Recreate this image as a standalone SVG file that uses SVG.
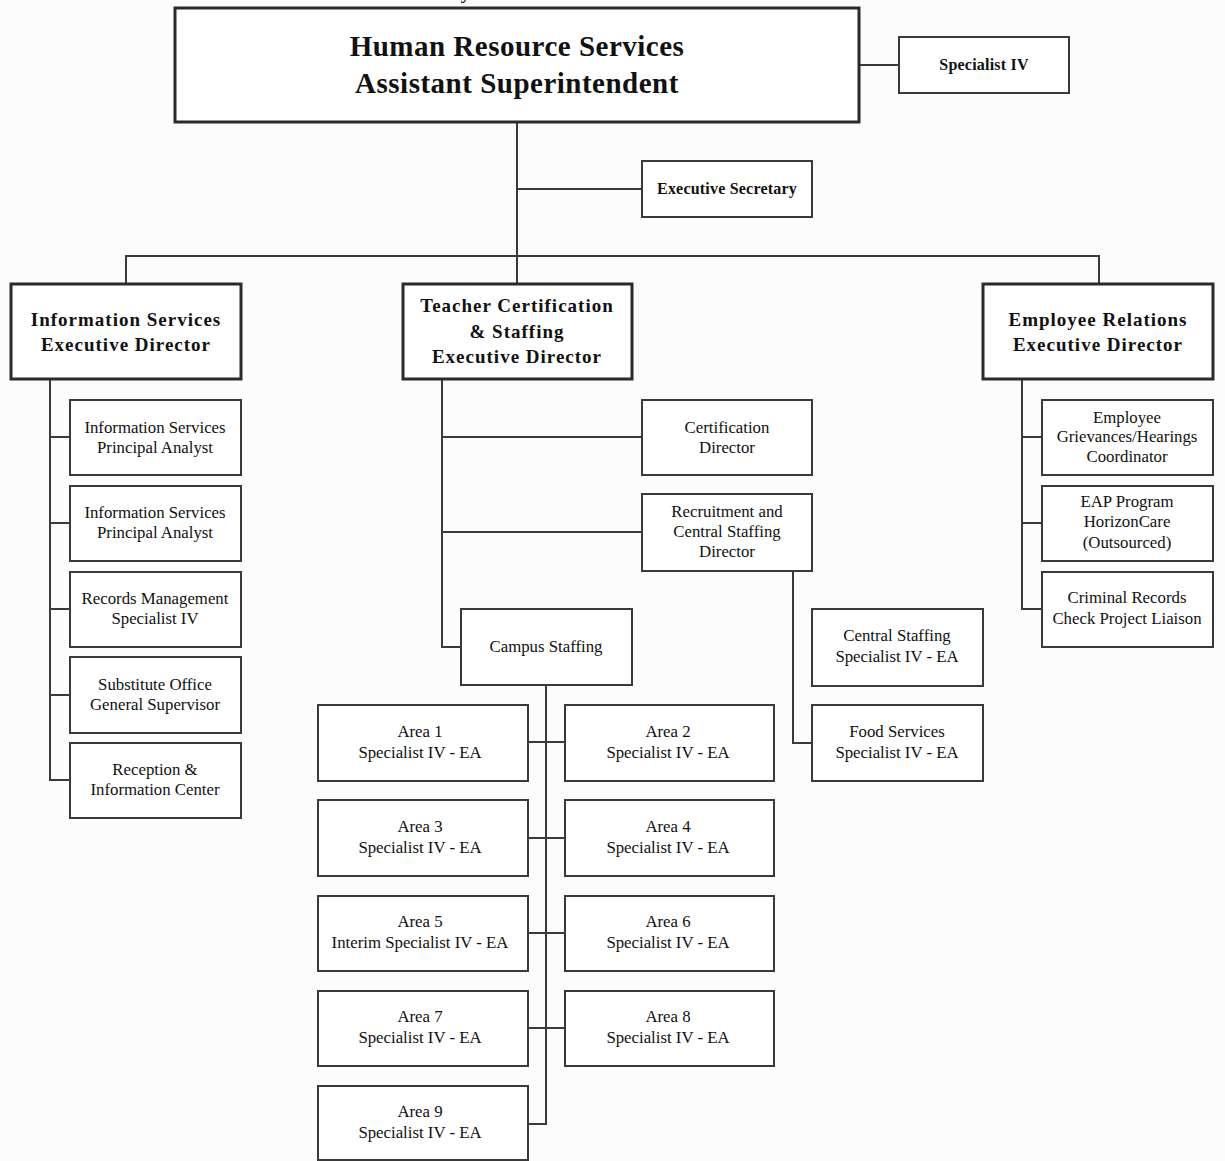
<svg xmlns="http://www.w3.org/2000/svg" width="1225" height="1161" viewBox="0 0 1225 1161">
  <style>
    .bg { fill: #fcfcfc; }
    .box { fill: #ffffff; stroke: #3a3a3a; stroke-width: 2; }
    .head { fill: #ffffff; stroke: #2a2a2a; stroke-width: 3; }
    .wire { fill: none; stroke: #3a3a3a; stroke-width: 2; }
    text { font-family: "Liberation Serif", "Times New Roman", serif; fill: #111111; text-anchor: middle; }
    .t1 { font-size: 29px; font-weight: bold; letter-spacing: 0.5px; }
    .t2 { font-size: 19px; font-weight: bold; letter-spacing: 1px; }
    .t3 { font-size: 16px; font-weight: bold; letter-spacing: 0.2px; }
    .t4 { font-size: 16.8px; }
  </style>
  <rect class="bg" x="0" y="0" width="1225" height="1161"/>
  <text class="t2" x="466" y="-1">y</text>

  <!-- connectors -->
  <g id="connectors">
    <path class="wire" d="M859 65 H899"/>
    <path class="wire" d="M517 122 V284"/>
    <path class="wire" d="M517 189 H642"/>
    <path class="wire" d="M126 284 V256 H1099 V284"/>
    <!-- Information Services branch -->
    <path class="wire" d="M50 379 V780 H70"/>
    <path class="wire" d="M50 437 H70 M50 523 H70 M50 609 H70 M50 695 H70"/>
    <!-- Teacher Certification branch -->
    <path class="wire" d="M442 379 V647 H461"/>
    <path class="wire" d="M442 437 H642 M442 532 H642"/>
    <path class="wire" d="M793 571 V743 H812"/>
    <!-- Employee Relations branch -->
    <path class="wire" d="M1022 379 V609 H1042"/>
    <path class="wire" d="M1022 437 H1042 M1022 523 H1042"/>
    <!-- Campus Staffing areas -->
    <path class="wire" d="M546 685 V1124 H528"/>
    <path class="wire" d="M528 742 H565 M528 838 H565 M528 933 H565 M528 1028 H565"/>
  </g>

  <g id="hr-services">
    <rect class="head" x="175" y="8" width="684" height="114"/>
    <text class="t1" x="517" y="56">Human Resource Services</text>
    <text class="t1" x="517" y="93">Assistant Superintendent</text>
  </g>
  <g id="specialist-iv">
    <rect class="box" x="899" y="37" width="170" height="56"/>
    <text class="t3" x="984" y="70">Specialist IV</text>
  </g>
  <g id="exec-secretary">
    <rect class="box" x="642" y="161" width="170" height="56"/>
    <text class="t3" x="727" y="194">Executive Secretary</text>
  </g>

  <g id="info-services">
    <rect class="head" x="11" y="284" width="230" height="95"/>
    <text class="t2" x="126" y="326">Information Services</text>
    <text class="t2" x="126" y="351">Executive Director</text>
  </g>
  <g id="teacher-cert">
    <rect class="head" x="403" y="284" width="229" height="95"/>
    <text class="t2" x="517" y="312">Teacher Certification</text>
    <text class="t2" x="517" y="338">&amp; Staffing</text>
    <text class="t2" x="517" y="363">Executive Director</text>
  </g>
  <g id="employee-relations">
    <rect class="head" x="983" y="284" width="230" height="95"/>
    <text class="t2" x="1098" y="326">Employee Relations</text>
    <text class="t2" x="1098" y="351">Executive Director</text>
  </g>

  <!-- Information Services staff -->
  <g id="is-analyst-1">
    <rect class="box" x="70" y="400" width="171" height="75"/>
    <text class="t4" x="155" y="433">Information Services</text>
    <text class="t4" x="155" y="453">Principal Analyst</text>
  </g>
  <g id="is-analyst-2">
    <rect class="box" x="70" y="486" width="171" height="75"/>
    <text class="t4" x="155" y="518">Information Services</text>
    <text class="t4" x="155" y="538">Principal Analyst</text>
  </g>
  <g id="records-mgmt">
    <rect class="box" x="70" y="572" width="171" height="75"/>
    <text class="t4" x="155" y="604">Records Management</text>
    <text class="t4" x="155" y="624">Specialist IV</text>
  </g>
  <g id="substitute-office">
    <rect class="box" x="70" y="657" width="171" height="76"/>
    <text class="t4" x="155" y="690">Substitute Office</text>
    <text class="t4" x="155" y="710">General Supervisor</text>
  </g>
  <g id="reception">
    <rect class="box" x="70" y="743" width="171" height="75"/>
    <text class="t4" x="155" y="775">Reception &amp;</text>
    <text class="t4" x="155" y="795">Information Center</text>
  </g>

  <!-- Teacher Certification staff -->
  <g id="cert-director">
    <rect class="box" x="642" y="400" width="170" height="75"/>
    <text class="t4" x="727" y="433">Certification</text>
    <text class="t4" x="727" y="453">Director</text>
  </g>
  <g id="recruitment">
    <rect class="box" x="642" y="494" width="170" height="77"/>
    <text class="t4" x="727" y="517">Recruitment and</text>
    <text class="t4" x="727" y="537">Central Staffing</text>
    <text class="t4" x="727" y="557">Director</text>
  </g>
  <g id="campus-staffing">
    <rect class="box" x="461" y="609" width="171" height="76"/>
    <text class="t4" x="546" y="652">Campus Staffing</text>
  </g>
  <g id="central-staffing">
    <rect class="box" x="812" y="609" width="171" height="77"/>
    <text class="t4" x="897" y="641">Central Staffing</text>
    <text class="t4" x="897" y="662">Specialist IV - EA</text>
  </g>
  <g id="food-services">
    <rect class="box" x="812" y="705" width="171" height="76"/>
    <text class="t4" x="897" y="737">Food Services</text>
    <text class="t4" x="897" y="758">Specialist IV - EA</text>
  </g>

  <!-- Employee Relations staff -->
  <g id="grievances">
    <rect class="box" x="1042" y="400" width="171" height="75"/>
    <text class="t4" x="1127" y="423">Employee</text>
    <text class="t4" x="1127" y="442">Grievances/Hearings</text>
    <text class="t4" x="1127" y="462">Coordinator</text>
  </g>
  <g id="eap-program">
    <rect class="box" x="1042" y="486" width="171" height="75"/>
    <text class="t4" x="1127" y="507">EAP Program</text>
    <text class="t4" x="1127" y="527">HorizonCare</text>
    <text class="t4" x="1127" y="548">(Outsourced)</text>
  </g>
  <g id="criminal-records">
    <rect class="box" x="1042" y="572" width="171" height="75"/>
    <text class="t4" x="1127" y="603">Criminal Records</text>
    <text class="t4" x="1127" y="624">Check Project Liaison</text>
  </g>

  <!-- Campus Staffing areas -->
  <g id="area-1">
    <rect class="box" x="318" y="705" width="210" height="76"/>
    <text class="t4" x="420" y="737">Area 1</text>
    <text class="t4" x="420" y="758">Specialist IV - EA</text>
  </g>
  <g id="area-2">
    <rect class="box" x="565" y="705" width="209" height="76"/>
    <text class="t4" x="668" y="737">Area 2</text>
    <text class="t4" x="668" y="758">Specialist IV - EA</text>
  </g>
  <g id="area-3">
    <rect class="box" x="318" y="800" width="210" height="76"/>
    <text class="t4" x="420" y="832">Area 3</text>
    <text class="t4" x="420" y="853">Specialist IV - EA</text>
  </g>
  <g id="area-4">
    <rect class="box" x="565" y="800" width="209" height="76"/>
    <text class="t4" x="668" y="832">Area 4</text>
    <text class="t4" x="668" y="853">Specialist IV - EA</text>
  </g>
  <g id="area-5">
    <rect class="box" x="318" y="896" width="210" height="75"/>
    <text class="t4" x="420" y="927">Area 5</text>
    <text class="t4" x="420" y="948">Interim Specialist IV - EA</text>
  </g>
  <g id="area-6">
    <rect class="box" x="565" y="896" width="209" height="75"/>
    <text class="t4" x="668" y="927">Area 6</text>
    <text class="t4" x="668" y="948">Specialist IV - EA</text>
  </g>
  <g id="area-7">
    <rect class="box" x="318" y="991" width="210" height="75"/>
    <text class="t4" x="420" y="1022">Area 7</text>
    <text class="t4" x="420" y="1043">Specialist IV - EA</text>
  </g>
  <g id="area-8">
    <rect class="box" x="565" y="991" width="209" height="75"/>
    <text class="t4" x="668" y="1022">Area 8</text>
    <text class="t4" x="668" y="1043">Specialist IV - EA</text>
  </g>
  <g id="area-9">
    <rect class="box" x="318" y="1086" width="210" height="74"/>
    <text class="t4" x="420" y="1117">Area 9</text>
    <text class="t4" x="420" y="1138">Specialist IV - EA</text>
  </g>
</svg>
